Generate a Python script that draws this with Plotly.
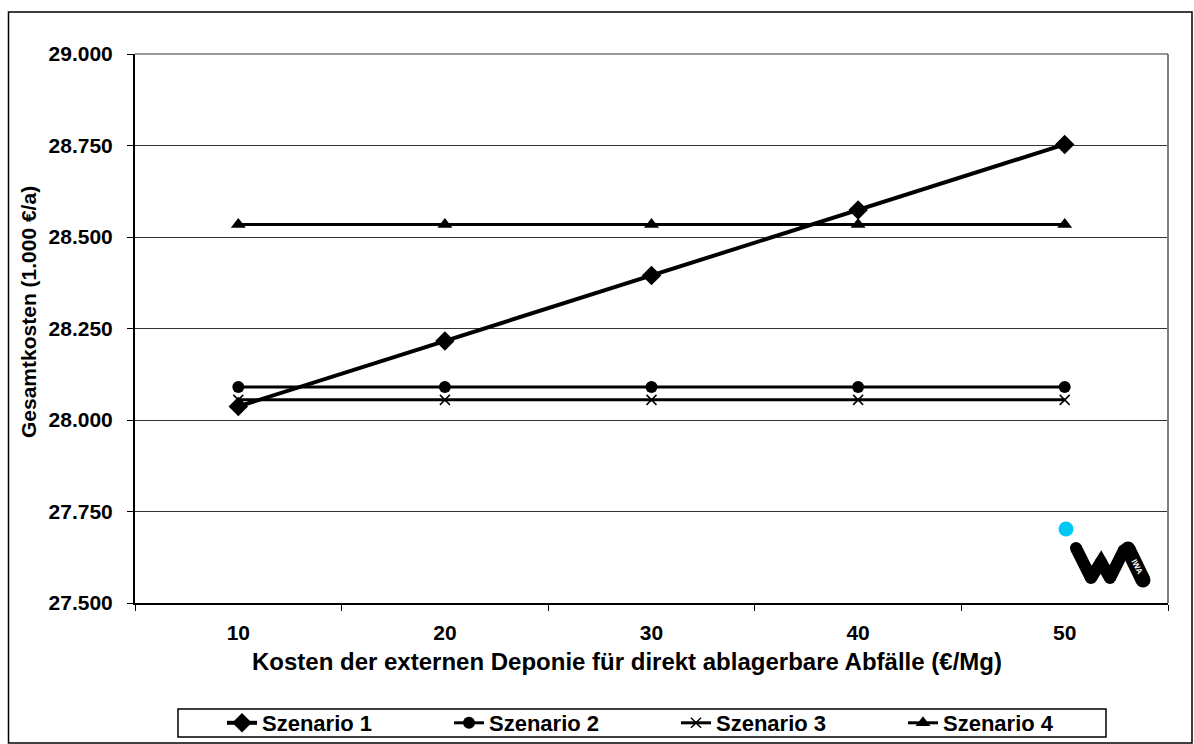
import plotly.graph_objects as go

# Kosten der externen Deponie (€/Mg)
kosten = ["10", "20", "30", "40", "50"]

# Gesamtkosten je Szenario (1.000 €/a)
szenario_1 = [28.037, 28.216, 28.395, 28.574, 28.753]
szenario_2 = [28.090, 28.090, 28.090, 28.090, 28.090]
szenario_3 = [28.055, 28.055, 28.055, 28.055, 28.055]
szenario_4 = [28.534, 28.534, 28.534, 28.534, 28.534]

y_tick_vals = [27.5, 27.75, 28.0, 28.25, 28.5, 28.75, 29.0]
y_tick_text = ["27.500", "27.750", "28.000", "28.250", "28.500", "28.750", "29.000"]

x_title = "Kosten der externen Deponie für direkt ablagerbare Abfälle (€/Mg)"
y_title = "Gesamtkosten (1.000 €/a)"

W, H = 1194, 744
L, R, T, B = 135, 26, 54, 141
PW, PH = W - L - R, H - T - B

FONT = "Liberation Sans, Arial, sans-serif"


def px(x):
    return (x - L) / PW


def py(y):
    return (H - B - y) / PH


fig = go.Figure()

series = [
    ("Szenario 1", szenario_1, dict(symbol="diamond", size=15), 4),
    ("Szenario 2", szenario_2, dict(symbol="circle", size=12), 3),
    ("Szenario 3", szenario_3, dict(symbol="x-thin", size=10,
                                    line=dict(width=1.5, color="black")), 3),
    ("Szenario 4", szenario_4, dict(symbol="triangle-up", size=13), 3),
]
for name, vals, marker, lw in series:
    fig.add_trace(go.Scatter(
        x=kosten, y=vals, name=name, mode="lines+markers",
        line=dict(color="black", width=lw),
        marker=dict(color="black", **marker),
        cliponaxis=False,
    ))

# IWA logo in the lower right corner (pixel coordinates on an overlay axis)
logo_x = [1076, 1091, 1101, 1110, 1124]
logo_y = [548, 578, 562, 578, 550]
fig.add_trace(go.Scatter(
    x=logo_x, y=logo_y, xaxis="x2", yaxis="y2", mode="lines+markers",
    line=dict(color="black", width=12), marker=dict(color="black", size=12),
    showlegend=False, hoverinfo="skip", cliponaxis=False,
))
fig.add_trace(go.Scatter(
    x=[1128, 1143], y=[549, 580], xaxis="x2", yaxis="y2", mode="lines+markers",
    line=dict(color="black", width=15), marker=dict(color="black", size=15),
    showlegend=False, hoverinfo="skip", cliponaxis=False,
))
fig.add_trace(go.Scatter(
    x=[1066], y=[529], xaxis="x2", yaxis="y2", mode="markers",
    marker=dict(color="#00c8f5", size=15),
    showlegend=False, hoverinfo="skip", cliponaxis=False,
))

fig.update_layout(
    width=W, height=H,
    margin=dict(l=L, r=R, t=T, b=B, autoexpand=False),
    paper_bgcolor="white", plot_bgcolor="white",
    font=dict(family=FONT, color="black", size=20),
    showlegend=True,
    legend=dict(
        orientation="h", x=px(222), y=py(723), xanchor="left", yanchor="middle",
        borderwidth=0, bgcolor="rgba(0,0,0,0)",
        font=dict(family=FONT, size=22, color="black", weight="bold"),
        entrywidth=182, entrywidthmode="pixels",
        itemclick=False, itemdoubleclick=False,
    ),
    xaxis=dict(
        type="category", range=[-0.5, 4.5],
        showgrid=False, zeroline=False,
        showline=True, linecolor="black", linewidth=2,
        ticks="outside", tickson="boundaries", ticklen=6,
        tickcolor="black", tickwidth=1,
        ticklabelstandoff=10,
        tickfont=dict(family=FONT, size=21, weight="bold"),
    ),
    yaxis=dict(
        range=[27.5, 29.0],
        tickvals=y_tick_vals, ticktext=y_tick_text,
        showgrid=True, gridcolor="#333333", gridwidth=1,
        zeroline=False,
        showline=True, linecolor="black", linewidth=2,
        ticks="outside", ticklen=6, tickcolor="black", tickwidth=1,
        ticklabelstandoff=10,
        tickfont=dict(family=FONT, size=21, weight="bold"),
    ),
    xaxis2=dict(range=[L, W - R], overlaying="x", visible=False, fixedrange=True),
    yaxis2=dict(range=[H - B, T], overlaying="y", visible=False, fixedrange=True),
    annotations=[
        dict(text=x_title, xref="paper", yref="paper", x=px(627), y=py(661),
             xanchor="center", yanchor="middle", showarrow=False,
             font=dict(family=FONT, size=24, weight="bold")),
        dict(text=y_title, xref="paper", yref="paper", x=px(28), y=py(312),
             xanchor="center", yanchor="middle", showarrow=False, textangle=-90,
             font=dict(family=FONT, size=21, weight="bold")),
        dict(text="IWA", xref="x2", yref="y2", x=1137, y=566,
             xanchor="center", yanchor="middle", showarrow=False, textangle=63,
             font=dict(family=FONT, size=8, color="white", weight="bold")),
    ],
    shapes=[
        # plot area frame (right and top edges)
        dict(type="line", xref="paper", yref="paper", x0=1, x1=1, y0=0, y1=1,
             line=dict(color="#808080", width=2)),
        dict(type="line", xref="paper", yref="paper", x0=0, x1=1, y0=1, y1=1,
             line=dict(color="#333333", width=1)),
        # legend frame
        dict(type="rect", xref="paper", yref="paper",
             x0=px(178), x1=px(1106), y0=py(737), y1=py(709),
             line=dict(color="black", width=1.5), layer="below"),
        # outer chart border
        dict(type="rect", xref="paper", yref="paper",
             x0=px(8.5), x1=px(1192), y0=py(743), y1=py(12),
             line=dict(color="black", width=1.5), layer="below"),
    ],
)

fig.write_html("out.html")
